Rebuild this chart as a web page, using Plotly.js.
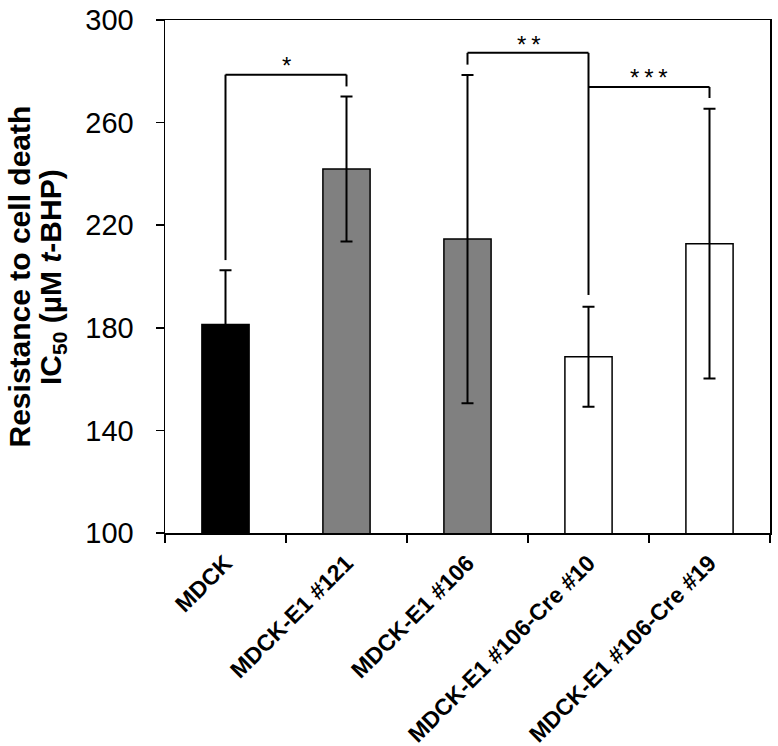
<!DOCTYPE html>
<html>
<head>
<meta charset="utf-8">
<script src="https://cdn.plot.ly/plotly-3.0.1.min.js"></script>
<style>html,body{margin:0;padding:0;background:#fff;}#chart{width:778px;height:746px;}</style>
</head>
<body>
<div id="chart"></div>
<script>
// Data
var categories = ["MDCK", "MDCK-E1 #121", "MDCK-E1 #106", "MDCK-E1 #106-Cre #10", "MDCK-E1 #106-Cre #19"];
var ic50Values = [181.3, 241.9, 214.6, 168.7, 212.8];
var ic50Errors = [21.1, 28.3, 64.0, 19.5, 52.6];
var barColors = ["#000000", "#808080", "#808080", "#ffffff", "#ffffff"];
var yTickValues = [100, 140, 180, 220, 260, 300];

// Significance brackets (category indices and y values)
var bracketStart = [0, 2, 3];
var bracketEnd = [1, 3, 4];
var bracketStartBottom = [206.4, 282.6, 273.9];
var bracketTop = [278.7, 287.2, 273.9];
var bracketEndBottom = [274.1, 192.8, 269.6];
var bracketLabels = ["*", "*\u2009*", "*\u2009*\u2009*"];
var bracketLabelY = [282.3, 290.6, 277.6];

var FONT = "Arial, 'Liberation Sans', sans-serif";

var trace = {
  type: "bar",
  x: categories,
  y: ic50Values,
  width: 0.39,
  marker: { color: barColors, line: { color: "#000000", width: 1.5 } },
  error_y: { type: "data", array: ic50Errors, visible: true, color: "#000000", thickness: 2, width: 6 },
  hoverinfo: "x+y"
};

var shapes = [];
var annotations = [];
for (var i = 0; i < bracketStart.length; i++) {
  var ln = { color: "#000000", width: 2 };
  shapes.push({ type: "line", xref: "x", yref: "y", x0: bracketStart[i], x1: bracketStart[i], y0: bracketStartBottom[i], y1: bracketTop[i], line: ln });
  shapes.push({ type: "line", xref: "x", yref: "y", x0: bracketStart[i], x1: bracketEnd[i], y0: bracketTop[i], y1: bracketTop[i], line: ln });
  shapes.push({ type: "line", xref: "x", yref: "y", x0: bracketEnd[i], x1: bracketEnd[i], y0: bracketTop[i], y1: bracketEndBottom[i], line: ln });
  annotations.push({
    xref: "x", yref: "y", x: (bracketStart[i] + bracketEnd[i]) / 2, y: bracketLabelY[i],
    text: bracketLabels[i], showarrow: false, xanchor: "center", yanchor: "middle",
    font: { family: FONT, size: 24, color: "#000000" }
  });
}

// Y axis title, two lines
annotations.push({
  xref: "paper", yref: "paper", x: -0.2397, y: 0.5, xanchor: "center", yanchor: "middle",
  text: "Resistance to cell death", textangle: -90, showarrow: false,
  font: { family: FONT, size: 30, color: "#000000", weight: "bold" }
});
annotations.push({
  xref: "paper", yref: "paper", x: -0.186, y: 0.5, xanchor: "center", yanchor: "middle",
  text: "IC<sub>50</sub> (µM <i>t</i>-BHP)", textangle: -90, showarrow: false,
  font: { family: FONT, size: 30, color: "#000000", weight: "bold" }
});

var layout = {
  width: 778,
  height: 746,
  margin: { l: 165, r: 8, t: 20, b: 213, pad: 0 },
  paper_bgcolor: "#ffffff",
  plot_bgcolor: "#ffffff",
  showlegend: false,
  font: { family: FONT, color: "#000000" },
  xaxis: {
    type: "category",
    showline: true, linecolor: "#000000", linewidth: 1.5, mirror: true,
    ticks: "outside", tickson: "boundaries", ticklen: 8, tickwidth: 1.5, tickcolor: "#000000",
    tickangle: -45, ticklabelstandoff: 6,
    tickfont: { family: FONT, size: 23, color: "#000000", weight: "bold" },
    showgrid: false, zeroline: false, fixedrange: true
  },
  yaxis: {
    range: [100, 300],
    tickvals: yTickValues,
    ticktext: yTickValues.map(String),
    showline: true, linecolor: "#000000", linewidth: 1.5, mirror: true,
    ticks: "outside", ticklen: 8, tickwidth: 1.5, tickcolor: "#000000",
    ticklabelstandoff: 16,
    tickfont: { family: FONT, size: 29, color: "#000000" },
    showgrid: false, zeroline: false, fixedrange: true
  },
  shapes: shapes,
  annotations: annotations
};

Plotly.newPlot("chart", [trace], layout, { displayModeBar: false, staticPlot: true });
</script>
</body>
</html>
